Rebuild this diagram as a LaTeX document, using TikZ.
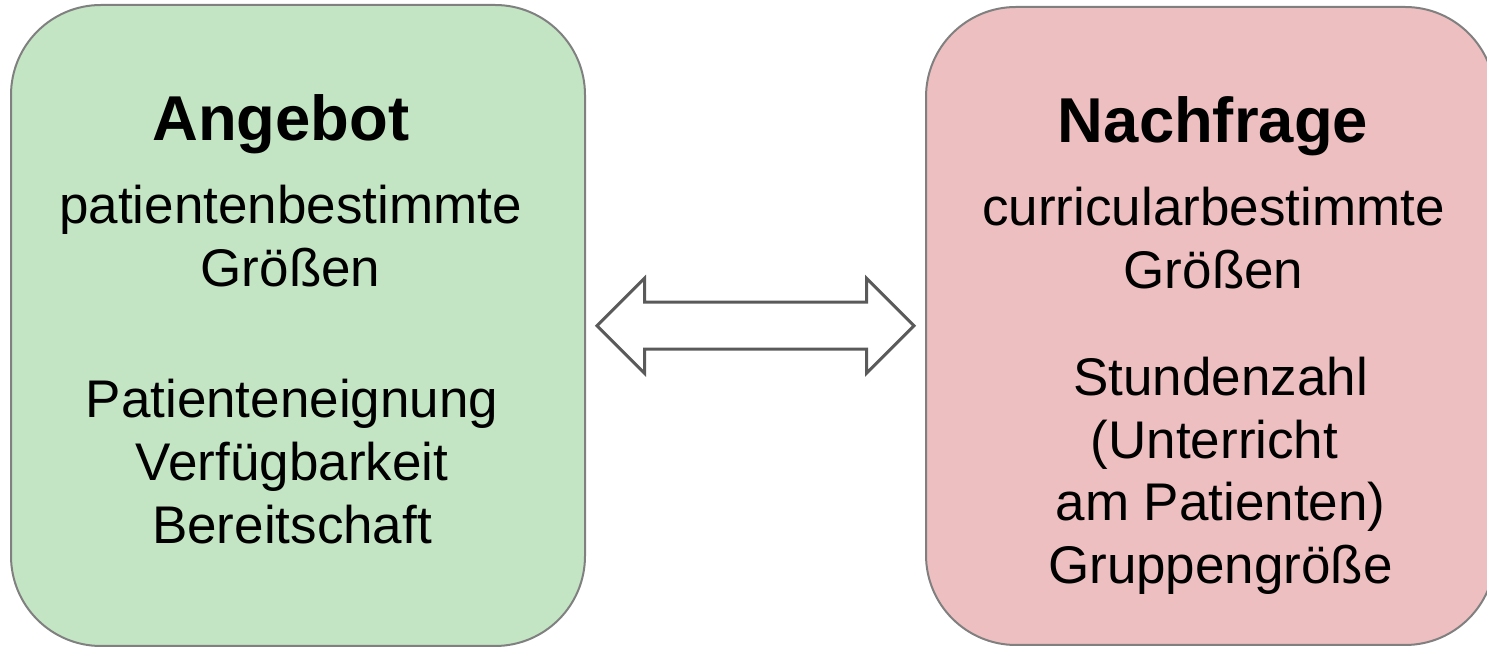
\documentclass[tikz,border=0pt]{standalone}
\usepackage{fontspec}
\setmainfont{Liberation Sans}
\usepackage{xcolor}
\usepackage{tikz}
\usetikzlibrary{shapes.arrows, positioning}
\definecolor{angebotgruen}{HTML}{C3E5C4}
\definecolor{nachfragerot}{HTML}{EEBFC0}
\definecolor{randgrau}{HTML}{808080}
\definecolor{pfeilgrau}{HTML}{5A5A5A}
\tikzset{
    box/.style={rectangle, draw=randgrau, line width=1pt, rounded corners=45pt},
    titel/.style={font=\bfseries\fontsize{31.7}{38}\selectfont, inner sep=0pt, anchor=base},
    zeile/.style={font=\fontsize{26.5}{31}\selectfont, inner sep=0pt, text height=22pt, text depth=9pt},
    pfeil/.style={double arrow, draw=pfeilgrau, fill=white, line width=1.5pt, inner xsep=0pt, inner ysep=11pt,
        minimum height=158.5pt, minimum width=46pt, double arrow head extend=12pt},
}

\begin{document}
\begin{tikzpicture}[x=0.5pt, y=0.5pt]
    \useasboundingbox (0,0) rectangle (1487,647);

    % Boxes
    \node[box, fill=angebotgruen, minimum width=287pt, minimum height=320.5pt] (links) at (298,321.5) {};
    \node[box, fill=nachfragerot, minimum width=284.5pt, minimum height=319pt] (rechts) at (1210.5,321) {};

    % Angebot
    \node[titel] (angebot) at (281,506) {Angebot};
    \node[zeile, anchor=base] (patgr) at (290.5,423) {patientenbestimmte};
    \node[zeile, below=0pt of patgr] (patgr2) {Größen};
    \node[zeile, anchor=base] (eignung) at (292,229) {Patienteneignung};
    \node[zeile, below=0pt of eignung] (verfueg) {Verfügbarkeit};
    \node[zeile, below=0pt of verfueg] (bereit) {Bereitschaft};

    % Nachfrage
    \node[titel] (nachfrage) at (1213,504) {Nachfrage};
    \node[zeile, anchor=base] (curgr) at (1213.5,421) {curricularbestimmte};
    \node[zeile, below=0pt of curgr] (curgr2) {Größen};
    \node[zeile, anchor=base] (stunden) at (1220.5,251) {Stundenzahl};
    \node[zeile, below=0pt of stunden, xshift=-3pt] (unterricht) {(Unterricht};
    \node[zeile, below=0pt of stunden, yshift=-31pt] (patienten) {am Patienten)};
    \node[zeile, below=0pt of patienten] (gruppe) {Gruppengröße};

    % Arrow
    \path (links) -- node[pfeil] (doppelpfeil) {} (rechts);

\end{tikzpicture}
\end{document}
